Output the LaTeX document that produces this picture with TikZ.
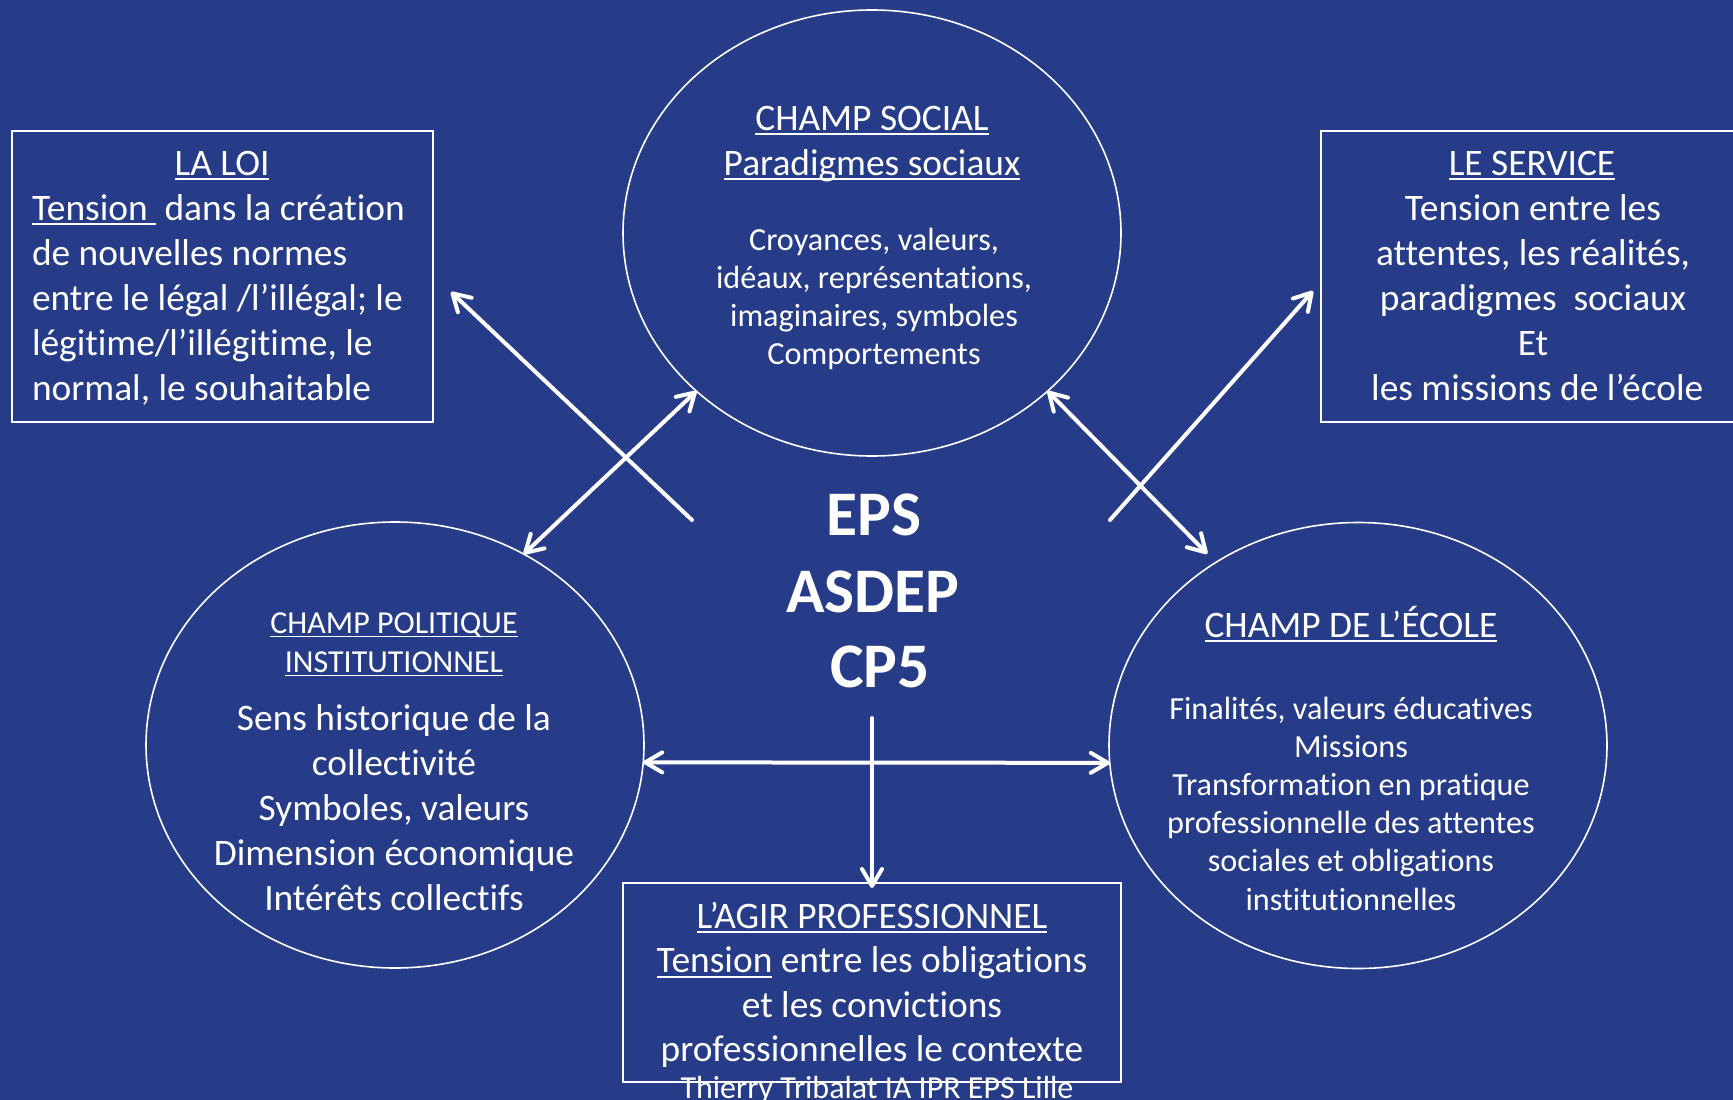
\documentclass[tikz,border=0pt]{standalone}
\usepackage{fontspec}
\setmainfont{Carlito}[Ligatures=NoCommon]
\usetikzlibrary{shapes.geometric,arrows.meta}
\definecolor{bg}{RGB}{39,60,136}
\newcommand\myul[1]{\leavevmode\setbox0=\hbox{#1}\rlap{\rule[-0.14em]{\wd0}{0.05em}}\box0\relax}
\newcommand\cblk[1]{\vtop{\lineskiplimit=-\maxdimen\halign{\hfil##\hfil\cr#1\crcr}}}
\newcommand\lblk[1]{\vtop{\lineskiplimit=-\maxdimen\halign{##\hfil\cr#1\crcr}}}
\begin{document}
\begin{tikzpicture}[x=1pt,y=-1pt,
  every node/.style={text=white,inner sep=0pt,outer sep=0pt},
  field/.style={draw=white,line width=1.6pt,ellipse,minimum width=498pt,minimum height=446pt},
  panel/.style={draw=white,line width=1.6pt,rectangle},
  big/.style={font=\fontsize{37.4}{45}\selectfont,anchor=base},
  mid/.style={font=\fontsize{32.2}{38.3}\selectfont,anchor=base},
  ptitle/.style={font=\fontsize{32}{39}\selectfont,anchor=base},
  foot/.style={font=\fontsize{32}{38}\selectfont,anchor=base},
  core/.style={font=\bfseries\fontsize{63.5}{76}\selectfont,anchor=base},
  arr/.style={draw=white,line width=4pt,line cap=round,arrows={-Straight Barb[length=17pt,width=20pt,round]}},
  arrtwo/.style={draw=white,line width=4pt,line cap=round,arrows={Straight Barb[length=17pt,width=20pt,round]-Straight Barb[length=17pt,width=20pt,round]}}]
\fill[bg] (0,0) rectangle (1733,1100);
\useasboundingbox (0,0) rectangle (1733,1100);

% shapes
\node[field] (social) at (872,233) {};
\node[field] (polit) at (395,745) {};
\node[field] (ecole) at (1358,745.5) {};
\node[panel,minimum width=421pt,minimum height=291pt] (loi) at (222.5,276.5) {};
\node[panel,minimum width=424pt,minimum height=291pt] (service) at (1533,276.5) {};
\node[panel,minimum width=498pt,minimum height=199pt] (agir) at (872,982.5) {};

% texts
\node[big] (loiT) at (222,175) {\myul{LA LOI}};
\node[big,anchor=base west] (loiB) at (32,220) {\lblk{\myul{Tension\ }\ dans la création\cr
de nouvelles normes\cr
entre le légal /l’illégal; le\cr
légitime/l’illégitime, le\cr
normal, le souhaitable}};

\node[big] (servT) at (1532,175) {\myul{LE SERVICE}};
\node[big] (servB) at (1533,220) {\cblk{Tension entre les\cr
attentes, les réalités,\cr
paradigmes~ sociaux\cr
Et\cr
~les missions de l’école}};

\node[big] (socT) at (872,130) {\cblk{\myul{CHAMP SOCIAL}\cr\myul{Paradigmes sociaux}}};
\node[mid] (socB) at (874,250) {\cblk{Croyances, valeurs,\cr
idéaux, représentations,\cr
imaginaires, symboles\cr
Comportements}};

\node[ptitle] (polT) at (394,633) {\cblk{\myul{CHAMP POLITIQUE}\cr\myul{INSTITUTIONNEL}}};
\node[big] (polB) at (394,730) {\cblk{Sens historique de la\cr
collectivité\cr
Symboles, valeurs\cr
Dimension économique\cr
Intérêts collectifs}};

\node[big] (ecoT) at (1351,637) {\myul{CHAMP DE L’ÉCOLE}};
\node[mid,font=\fontsize{32.2}{38.2}\selectfont] (ecoB) at (1351,719) {\cblk{Finalités, valeurs éducatives\cr
Missions\cr
Transformation en pratique\cr
professionnelle des attentes\cr
sociales et obligations\cr
institutionnelles}};

\node[big,font=\fontsize{37.4}{44.6}\selectfont] (agirB) at (872,928) {\cblk{\myul{L’AGIR PROFESSIONNEL}\cr
\myul{Tension} entre les obligations\cr
et les convictions\cr
professionnelles le contexte}};

\node[foot] (author) at (877,1098) {Thierry Tribalat IA IPR EPS Lille};

\node[core] (eps) at (874,535) {EPS};
\node[core] (asdep) at (873,612) {ASDEP};
\node[core] (cp) at (880,687) {CP5};

% connectors
\coordinate (loiTail) at (692,520);
\coordinate (servTail) at (1110,520);
\coordinate (vTop) at (872,718);
\draw[arr] (loiTail) -- ([shift={(18,15.5)}]loi.east);
\draw[arr] (servTail) -- ([shift={(-8,14.5)}]service.west);
\draw[arrtwo] (polit.56) -- (social.222);
\draw[arrtwo] (social.318) -- ([shift={(-8,-9)}]ecole.128);
\draw[arrtwo] (polit.356) -- (ecole.184);
\draw[arr] (vTop) -- ([yshift=-5pt]agir.north);
\end{tikzpicture}
\end{document}
